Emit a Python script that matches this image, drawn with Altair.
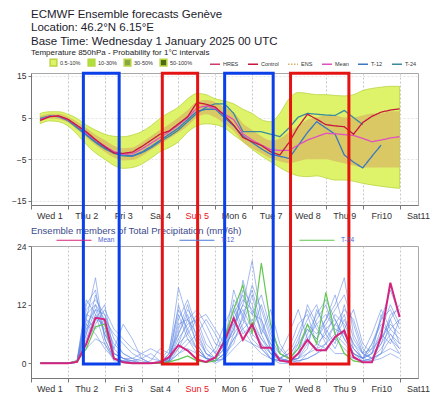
import altair as alt
import pandas as pd

FONT = "Liberation Sans"

# ---------------- data ----------------
DAY_LABELS = ['Wed 1', 'Thu 2', 'Fri 3', 'Sat 4', 'Sun 5', 'Mon 6',
              'Tue 7', 'Wed 8', 'Thu 9', 'Fri10', 'Sat11']
HOURS = [6 * i for i in range(1, 41)]  # forecast steps 6h..240h

# Temperature 850 hPa (deg C)
T_MEAN = [4.5, 5.3, 5.3, 4.5, 3.0, 1.3, -0.4, -1.8, -3.2, -3.8,
          -3.7, -2.6, -1.2, 0.2, 1.6, 3.2, 5.0, 7.3, 7.8, 7.2,
          5.8, 4.5, 1.1, -0.4, -1.6, -2.7, -2.9, -2.9, -1.6, -0.4,
          0.4, 1.2, 1.1, 0.9, 0.7, 0.0, -0.8, -0.4, 0.1, 0.4]
T_CONTROL = [4.3, 5.2, 5.4, 4.6, 3.1, 1.6, -0.3, -2.0, -3.5, -3.6,
             -3.3, -2.0, -0.5, 1.0, 1.8, 3.5, 5.2, 8.6, 8.2, 7.5,
             5.5, 3.2, 0.2, -0.8, -1.7, -3.2, -4.0, -1.0, 2.8, 5.8,
             4.6, 3.3, 3.0, 2.8, 1.0, 3.8, 5.3, 6.3, 6.8, 7.1]
T_T12 = [4.6, 5.3, 5.3, 4.4, 2.8, 1.0, -0.8, -2.2, -3.5, -4.0,
         -4.2, -3.3, -2.0, -0.5, 1.0, 2.5, 4.5, 6.5, 7.0, 7.0,
         5.0, 3.0, 0.6, -1.0, -2.5, -3.8, -4.3, -4.8, -1.7, 1.4,
         4.0, 2.5, 1.0, -4.0, -5.7, -7.1, -4.3, -1.6]
T_T24 = [4.8, 5.4, 5.2, 4.3, 2.5, 0.8, -1.0, -2.5, -3.6, -4.2,
         -4.3, -3.5, -2.3, -0.8, 0.5, 2.0, 4.0, 6.0, 7.5, 8.3,
         8.3, 6.0, 1.6, 1.6, 1.6, 1.0, 0.4, 2.5, 5.1, 6.0,
         5.8, 5.6, 5.5, 6.7, 5.0, 3.3]
ENV_LO = [3.5, 4.2, 4.0, 3.0, 1.0, -1.5, -3.5, -5.0, -6.5, -7.2,
          -7.0, -6.2, -4.8, -3.2, -2.2, -0.8, 1.5, 3.0, 3.5, 3.3,
          2.5, 0.8, -0.8, -2.6, -4.2, -5.6, -7.0, -8.2, -9.0, -9.2,
          -9.0, -9.5, -10.0, -10.0, -10.3, -10.8, -11.2, -11.5, -11.8, -12.0]
ENV_HI = [6.0, 6.4, 6.4, 5.8, 4.8, 3.2, 2.0, 1.0, 0.5, 0.4,
          0.8, 1.6, 3.0, 4.8, 6.2, 7.5, 9.5, 10.8, 10.5, 9.5,
          9.0, 8.3, 7.0, 6.0, 4.5, 4.0, 6.0, 9.5, 11.0, 10.8,
          10.5, 10.5, 10.3, 10.2, 10.5, 11.5, 12.0, 12.3, 12.5, 12.5]
CORE_LO = [4.0, 4.7, 4.6, 3.8, 2.2, 0.2, -1.6, -3.2, -4.6, -5.3,
           -5.2, -4.3, -2.8, -1.4, 0.0, 1.4, 3.0, 5.0, 5.8, 5.0,
           3.5, 1.8, -0.8, -2.4, -3.6, -4.8, -5.5, -6.0, -5.5, -5.0,
           -5.0, -5.0, -5.5, -6.0, -6.5, -7.0, -7.0, -7.0, -7.0, -7.0]
CORE_HI = [5.3, 5.9, 5.9, 5.2, 4.0, 2.5, 0.9, -0.4, -1.8, -2.4,
           -2.2, -1.0, 0.5, 2.0, 3.4, 5.0, 6.8, 8.8, 9.2, 8.7,
           7.5, 6.2, 3.6, 2.0, 0.5, -0.5, 0.0, 1.5, 3.0, 4.5,
           5.0, 5.5, 5.5, 5.0, 5.0, 5.5, 6.0, 6.0, 6.5, 6.5]

FILL_CATS = ['0.5-10%', '10-30%', '30-50%', '50-100%']
FILL_COLORS = ['#def36a', '#aee23a', '#8aa545', '#4d6a14']
LINE_CATS = ['HRES', 'Control', 'ENS', 'Mean', 'T-12', 'T-24']
LINE_COLORS = ['#d23a6a', '#c8163e', '#d8b070', '#e050c0', '#3a78c0', '#3a8aa0']
LINE_DASHES = [[1, 0], [1, 0], [1.5, 1.5], [1, 0], [1, 0], [1, 0]]

# Precipitation (mm/6h)
P_TITLE = ["Ensemble members of Total Precipitation (mm/6h)"]
P_MEAN = [0, 0, 0, 0, 0.3, 4, 9.3, 9, 1, 0.2,
          0, 0, 0, 0.2, 1.3, 3.7, 2.6, 0.8, 0.3, 1.2,
          4.5, 9.2, 4.8, 8.0, 3.2, 3.2, 0.6, 0.3, 2.0, 4.8,
          2.7, 2.7, 5.4, 6.7, 1.3, 0.2, 0.2, 5.5, 16.5, 9.5]
P_T24 = [0, 0, 0, 0, 0.5, 3, 7.5, 8, 1, 0.2,
         0, 0, 0, 0, 0.3, 0.8, 1.5, 0.5, 0.2, 0.5,
         5, 11, 16, 6, 20.5, 8, 2, 1, 3, 8,
         4, 14.5, 6, 2, 0.5, 0.2]
P_MEMBERS = [
    [0, 0, 0, 0, 0.3, 9, 17.5, 5, 1, 0.3, 0, 0, 0, 0.2, 2, 15.5, 9, 4, 1, 0.5,
     2, 8, 12, 21, 9, 3, 1, 0.5, 3, 7, 5, 9, 12, 17.5, 6, 2, 1, 3, 6, 4],
    [0, 0, 0, 0, 0.5, 11, 13, 10, 3, 1, 0.5, 0, 0, 0, 0.5, 6, 11, 8, 3, 1,
     4, 15, 9, 6, 4, 2, 1, 2, 6, 11, 7, 5, 8, 6, 3, 1, 2, 7, 12, 8],
    [0, 0, 0, 0, 0.2, 7, 12, 9, 6, 4, 2, 1, 0, 0, 1, 3, 7, 10, 6, 2,
     1, 6, 17, 10, 14, 7, 2, 1, 1, 4, 9, 12, 6, 4, 2, 1, 3, 9, 15, 10],
    [0, 0, 0, 0, 0.4, 10, 9, 12, 2, 1, 0, 0, 0, 0, 0.5, 12, 6, 3, 1, 0,
     1, 5, 8, 14, 6, 11, 4, 1, 0, 2, 4, 6, 10, 8, 4, 1, 0.5, 2, 5, 3],
    [0, 0, 0, 0, 0.3, 6, 14, 8, 1, 0.5, 0.2, 0, 0.5, 3, 2, 10, 5, 2, 1, 3,
     8, 12, 7, 9, 5, 2, 0.5, 0.3, 4, 12, 8, 4, 6, 10, 3, 1, 2, 6, 4, 9],
    [0, 0, 0, 0, 0.2, 4, 8, 11, 7, 5, 3, 2, 1, 0.5, 0.5, 4, 9, 11, 8, 4,
     3, 9, 13, 11, 7, 4, 2, 6, 11, 5, 3, 7, 9, 5, 2, 0.5, 1, 4, 10, 11],
    [0, 0, 0, 0, 0.6, 13, 10, 4, 0.5, 0.3, 0, 0, 0, 0, 0.3, 2, 4, 6, 9, 6,
     2, 4, 10, 15, 8, 3, 1, 0.5, 1, 3, 11, 7, 4, 12, 5, 2, 6, 11, 7, 5],
    [0, 0, 0, 0, 0.3, 8, 11, 6, 3, 8, 5, 1, 0, 0, 1, 7, 12, 5, 2, 1,
     5, 11, 6, 8, 4, 1, 0, 0, 2, 8, 6, 9, 14, 7, 2, 1, 4, 8, 6, 3],
    [0, 0, 0, 0, 0.4, 9, 7, 9, 2, 1, 1, 2, 3, 2, 0.5, 5, 8, 9, 4, 2,
     6, 8, 11, 7, 12, 6, 3, 1, 0.5, 1, 2, 4, 8, 11, 9, 3, 1, 2, 9, 12],
    [0, 0, 0, 0, 0.2, 5, 10, 7, 1, 0.5, 0, 0, 0, 0.5, 3, 11, 7, 3, 1, 1,
     3, 7, 15, 12, 6, 2, 1, 3, 8, 10, 4, 3, 5, 9, 4, 2, 3, 5, 8, 6],
    [0, 0, 0, 0, 0.5, 12, 15, 5, 1, 0.5, 0.5, 1, 2, 0.5, 0.5, 9, 13, 7, 2, 0.5,
     2, 13, 10, 5, 3, 1, 0.5, 1, 5, 9, 12, 6, 3, 7, 11, 4, 2, 10, 5, 2],
    [0, 0, 0, 0, 0.3, 7, 9, 8, 4, 2, 1, 0, 0, 0, 1, 4, 6, 9, 10, 7,
     4, 6, 9, 16, 11, 5, 2, 1, 3, 5, 8, 10, 7, 6, 3, 1, 2, 4, 7, 9],
    [0, 0, 0, 0, 0.2, 6, 11, 10, 5, 2, 1, 0.5, 0, 0, 2, 6, 10, 4, 1, 0.5,
     1, 10, 14, 8, 5, 3, 1, 0.5, 1, 6, 10, 13, 9, 5, 2, 1, 4, 9, 11, 7],
    [0, 0, 0, 0, 0.4, 10, 12, 6, 2, 1, 0.5, 0, 0, 0, 0.5, 8, 9, 6, 2, 1,
     3, 7, 12, 10, 9, 4, 1, 2, 4, 7, 5, 8, 11, 14, 8, 2, 1, 5, 9, 4],
    [0, 0, 0, 0, 0.2, 3, 5, 4, 1, 0.5, 0, 0, 0, 0, 0.3, 2, 3, 2, 1, 0.5,
     1, 3, 5, 4, 2, 1, 0.5, 0.5, 1, 2, 3, 4, 2, 2, 1, 0.5, 1, 2, 3, 2],
    [0, 0, 0, 0, 0.3, 8, 6, 3, 1, 0.2, 0, 0, 0, 0, 0.2, 3, 5, 3, 1, 0.5,
     2, 5, 7, 4, 3, 1, 0.5, 0.2, 0.5, 1, 2, 3, 5, 3, 1, 0.5, 0.5, 1, 2, 1],
]
P_LINE_CATS = ['Mean', 'T-12', 'T-24']
P_LINE_COLORS = ['#d4247e', '#4a78d8', '#62c84e']

# highlight boxes (forecast hours)
BOX_BLUE_START = [34.1, 126.1]
BOX_BLUE_END = [57.4, 157.7]
BOX_RED_START = [85.5, 169.0]
BOX_RED_END = [108.5, 207.0]

# ---------------- helpers ----------------
W, H = 387, 132
XMAX = 252
SPACING = 41
x_scale = alt.Scale(domain=[0, XMAX], nice=False, zero=False)


def cond(test, yes, no):
    return {"condition": {"test": test, "value": yes}, "value": no}


label_expr = "''"
for k in range(len(DAY_LABELS) - 1, -1, -1):
    label_expr = f"datum.value == {24 * k + 12} ? '{DAY_LABELS[k]}' : ({label_expr})"
NOON = "datum.value % 24 == 12"


def x_axis():
    return alt.Axis(values=list(range(0, XMAX + 1, 12)), labelExpr=label_expr,
                    labelOverlap=False, labelFlush=False, title=None,
                    grid=True, gridDash=[2, 2], gridColor="#c8c8c8",
                    gridOpacity=cond(NOON, 0, 1), tickOpacity=cond(NOON, 0, 1),
                    labelColor=cond("datum.value == 108", "#e8141e", "#333333"),
                    labelFontSize=9, labelPadding=2, tickSize=4,
                    tickColor="#777", domainColor="#777")


y_top_scale = alt.Scale(domain=[-16, 15.7], nice=False, zero=False)
y_top_axis = alt.Axis(values=[-15, -10, -5, 0, 5, 10, 15], title=None, grid=True,
                      gridDash=[2, 2], gridColor="#e2e2e2", labelFontSize=8.5,
                      labelColor="#333", tickSize=3, labelPadding=2,
                      tickColor="#777", domainColor="#777")
y_bot_scale = alt.Scale(domain=[-3, 24], nice=False, zero=False)
y_bot_axis = alt.Axis(values=[0, 6, 12, 18, 24], title=None, grid=False,
                      labelFontSize=8.5, labelColor="#333", tickSize=3,
                      labelPadding=2, tickColor="#777", domainColor="#777")

# ---------------- top panel ----------------
env_df = pd.DataFrame({"t": HOURS, "lo": ENV_LO, "hi": ENV_HI, "prob": FILL_CATS[0]})
core_df = pd.DataFrame({"t": HOURS, "lo": CORE_LO, "hi": CORE_HI})
rows = []
for name, vals in [("T-24", T_T24), ("T-12", T_T12), ("Mean", T_MEAN), ("Control", T_CONTROL)]:
    for t, v in zip(HOURS, vals):
        rows.append({"t": t, "v": v, "series": name})
tl_df = pd.DataFrame(rows)

line_legend = alt.Legend(orient="none", legendX=178, legendY=-15, direction="horizontal",
                         title=None, symbolType="stroke", symbolSize=100,
                         symbolStrokeWidth=1.3, labelFontSize=5.5, labelColor="#333",
                         labelOffset=2, columnPadding=6)

outer = alt.Chart(env_df).mark_area(interpolate="monotone", stroke="#b8d640",
                                    strokeWidth=0.8).encode(
    y=alt.Y("lo:Q", scale=y_top_scale, axis=y_top_axis),
    y2="hi:Q",
    fill=alt.Fill("prob:N", scale=alt.Scale(domain=FILL_CATS, range=FILL_COLORS),
                  legend=alt.Legend(orient="none", legendX=18, legendY=-15,
                                    direction="horizontal", title=None,
                                    symbolType="square", symbolSize=45,
                                    labelFontSize=5.5, labelColor="#333",
                                    labelOffset=2, columnPadding=4)),
)
core = alt.Chart(core_df).mark_area(interpolate="monotone", color="#d6a45e",
                                    opacity=0.55).encode(y="lo:Q", y2="hi:Q")
tlines = alt.Chart(tl_df).mark_line(strokeWidth=1.3).encode(
    y="v:Q",
    stroke=alt.Stroke("series:N", scale=alt.Scale(domain=LINE_CATS, range=LINE_COLORS),
                      legend=line_legend),
    strokeDash=alt.StrokeDash("series:N", scale=alt.Scale(domain=LINE_CATS, range=LINE_DASHES),
                              legend=line_legend),
)

top = alt.layer(outer, core, tlines).encode(
    x=alt.X("t:Q", scale=x_scale, axis=x_axis())
).properties(
    width=W, height=H,
    title=alt.TitleParams(
        text=["ECMWF Ensemble forecasts Genève", "Location:  46.2°N 6.15°E",
              "Base Time: Wednesday  1 January 2025 00 UTC"],
        subtitle=["Temperature 850hPa - Probability for 1°C intervals"],
        anchor="start", frame="group", font=FONT, fontSize=11.5,
        fontWeight="normal", lineHeight=13.5, color="#1c1c2c",
        subtitleFont=FONT, subtitleFontSize=8, subtitleColor="#222",
        subtitlePadding=2, offset=1),
)

# ---------------- bottom panel ----------------
mrows = []
for i, vals in enumerate(P_MEMBERS):
    for t, v in zip(HOURS, vals):
        mrows.append({"t": t, "v": v, "m": i})
mem_df = pd.DataFrame(mrows)
pm_df = pd.DataFrame({"t": HOURS, "v": P_MEAN, "series": "Mean"})
p24_df = pd.DataFrame({"t": HOURS[:len(P_T24)], "v": P_T24, "series": "T-24"})

p_legend = alt.Legend(orient="none", legendX=25, legendY=-24, direction="horizontal",
                      title=None, symbolType="stroke", symbolSize=1225,
                      symbolStrokeWidth=1, labelFontSize=6.5, labelColor="#4a5fd0",
                      labelOffset=6, columnPadding=62)
p_stroke = alt.Stroke("series:N", scale=alt.Scale(domain=P_LINE_CATS, range=P_LINE_COLORS),
                      legend=p_legend)

members = alt.Chart(mem_df).mark_line(color="#5f87e2", strokeWidth=0.7, opacity=0.8).encode(
    y=alt.Y("v:Q", scale=y_bot_scale, axis=y_bot_axis),
    detail="m:N",
)
p24 = alt.Chart(p24_df).mark_line(strokeWidth=1.2).encode(y="v:Q", stroke=p_stroke)
pmean = alt.Chart(pm_df).mark_line(strokeWidth=2).encode(y="v:Q", stroke=p_stroke)

ptitle = alt.Chart(pd.DataFrame({"txt": P_TITLE})).mark_text(
    align="left", baseline="middle", font=FONT, fontSize=9.5, color="#3c4a8c"
).encode(text="txt:N", x=alt.value(0), y=alt.value(-15))

blue_df = pd.DataFrame({"x0": BOX_BLUE_START, "x1": BOX_BLUE_END})
red_df = pd.DataFrame({"x0": BOX_RED_START, "x1": BOX_RED_END})
blue = alt.Chart(blue_df).mark_rect(fillOpacity=0, stroke="#0b3fe8", strokeWidth=3).encode(
    x=alt.X("x0:Q", scale=x_scale, axis=x_axis()), x2="x1:Q",
    y=alt.value(-(SPACING + H) + 0.3), y2=alt.value(118))
red = alt.Chart(red_df).mark_rect(fillOpacity=0, stroke="#e41414", strokeWidth=3).encode(
    x=alt.X("x0:Q", scale=x_scale, axis=x_axis()), x2="x1:Q",
    y=alt.value(-(SPACING + H) + 0.3), y2=alt.value(118))

bottom = alt.layer(members, p24, pmean, ptitle, blue, red).encode(
    x=alt.X("t:Q", scale=x_scale, axis=x_axis())
).properties(width=W, height=H)

chart = alt.vconcat(top, bottom, spacing=SPACING, bounds="flush").resolve_scale(
    stroke="independent", strokeDash="independent", fill="independent"
).properties(
    padding={"left": 3, "top": 0, "right": 0, "bottom": 0}
).configure(font=FONT).configure_view(stroke="#a8a8a8", strokeWidth=1)

chart.save("out.html", embed_options={"renderer": "svg", "actions": False})
